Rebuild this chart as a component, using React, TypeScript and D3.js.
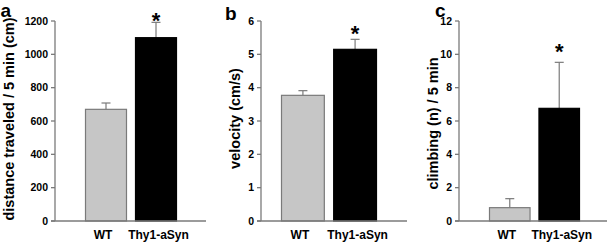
import React from "react";
import * as d3 from "d3";

const categories = ["WT", "Thy1-aSyn"];

const distanceMeans = [670, 1100];
const distanceErrors = [38, 92];
const distanceTicks = [0, 200, 400, 600, 800, 1000, 1200];

const velocityMeans = [3.77, 5.15];
const velocityErrors = [0.14, 0.3];
const velocityTicks = [0, 1, 2, 3, 4, 5, 6];

const climbingMeans = [0.8, 6.76];
const climbingErrors = [0.54, 2.76];
const climbingTicks = [0, 2, 4, 6, 8, 10, 12];

const panelLetters = ["a", "b", "c"];
const yTitles = ["distance traveled / 5 min (cm)", "velocity (cm/s)", "climbing (n) / 5 min"];
const significant = ["*", "*", "*"];

const FONT = "'Liberation Sans', Arial, Helvetica, sans-serif";
const AXIS = "#7a7a7a";

type PanelLayout = {
  axisX: number;
  xEnd: number;
  barRange: [number, number];
  letterX: number;
  letterY: number;
  titleX: number;
  titleY: number;
  starGap: number;
};

const layouts: PanelLayout[] = [
  { axisX: 55, xEnd: 206, barRange: [85, 177], letterX: 0.5, letterY: 17, titleX: 13.5, titleY: 119, starGap: 7 },
  { axisX: 261, xEnd: 407, barRange: [281, 377], letterX: 225, letterY: 19.5, titleX: 239.5, titleY: 118.5, starGap: 11 },
  { axisX: 459, xEnd: 607, barRange: [489, 580], letterX: 435, letterY: 17, titleX: 437.5, titleY: 123.5, starGap: 16.5 },
];

const labelOffsets = [-3, 2.5];

function Panel({
  means,
  errors,
  ticks,
  layout,
  letter,
  title,
  star,
}: {
  means: number[];
  errors: number[];
  ticks: number[];
  layout: PanelLayout;
  letter: string;
  title: string;
  star: string;
}) {
  const yTop = 21;
  const yBottom = 221;
  const y = d3
    .scaleLinear()
    .domain([ticks[0], ticks[ticks.length - 1]])
    .range([yBottom, yTop]);
  const x = d3.scaleBand<string>().domain(categories).range(layout.barRange).paddingInner(0.16).paddingOuter(0);
  const bw = x.bandwidth();
  const fills = ["#c6c6c6", "#000000"];
  const strokes = ["#7a7a7a", "#000000"];
  const starSize = 22;
  return (
    <g>
      <text x={layout.letterX} y={layout.letterY} fontFamily={FONT} fontWeight="bold" fontSize={19} fill="#000">
        {letter}
      </text>
      <text
        transform={`translate(${layout.titleX},${layout.titleY}) rotate(-90)`}
        textAnchor="middle"
        fontFamily={FONT}
        fontWeight="bold"
        fontSize={14.5}
        fill="#000"
      >
        {title}
      </text>
      {categories.map((c, i) => {
        const x0 = x(c)!;
        const top = y(means[i]);
        const errTop = y(means[i] + errors[i]);
        const cx = x0 + bw / 2;
        return (
          <g key={c}>
            <line x1={cx} x2={cx} y1={top} y2={errTop} stroke={AXIS} strokeWidth={1.2} />
            <line x1={cx - 4.5} x2={cx + 4.5} y1={errTop} y2={errTop} stroke={AXIS} strokeWidth={1.2} />
            <rect
              x={x0 + 0.5}
              y={top}
              width={bw - 1}
              height={yBottom - top}
              fill={fills[i]}
              stroke={strokes[i]}
              strokeWidth={1.2}
            />
            {i === 1 && (
              <text
                x={cx}
                y={errTop - layout.starGap + 0.58 * starSize}
                textAnchor="middle"
                fontFamily={FONT}
                fontWeight="bold"
                fontSize={starSize}
                fill="#000"
              >
                {star}
              </text>
            )}
            <text
              x={cx + labelOffsets[i]}
              y={239}
              textAnchor="middle"
              fontFamily={FONT}
              fontWeight="bold"
              fontSize={12}
              fill="#000"
            >
              {c}
            </text>
          </g>
        );
      })}
      <line x1={layout.axisX} x2={layout.axisX} y1={yTop} y2={yBottom} stroke={AXIS} strokeWidth={1.3} />
      {ticks.map((t) => (
        <g key={t}>
          <line x1={layout.axisX - 4} x2={layout.axisX} y1={y(t)} y2={y(t)} stroke={AXIS} strokeWidth={1.3} />
          <text
            x={layout.axisX - 7}
            y={y(t)}
            dy="0.36em"
            textAnchor="end"
            fontFamily={FONT}
            fontWeight="bold"
            fontSize={10.5}
            fill="#000"
          >
            {t}
          </text>
        </g>
      ))}
      <line x1={layout.axisX - 4} x2={layout.xEnd} y1={yBottom} y2={yBottom} stroke={AXIS} strokeWidth={1.3} />
    </g>
  );
}

export default function App() {
  const data = [
    { means: distanceMeans, errors: distanceErrors, ticks: distanceTicks },
    { means: velocityMeans, errors: velocityErrors, ticks: velocityTicks },
    { means: climbingMeans, errors: climbingErrors, ticks: climbingTicks },
  ];
  return (
    <svg
      width={609}
      height={242}
      viewBox="0 0 609 242"
      style={{ position: "absolute", left: 0, top: 0, background: "#fff" }}
    >
      <rect x={0} y={0} width={609} height={242} fill="#fff" />
      {data.map((d, i) => (
        <Panel
          key={i}
          means={d.means}
          errors={d.errors}
          ticks={d.ticks}
          layout={layouts[i]}
          letter={panelLetters[i]}
          title={yTitles[i]}
          star={significant[i]}
        />
      ))}
    </svg>
  );
}
